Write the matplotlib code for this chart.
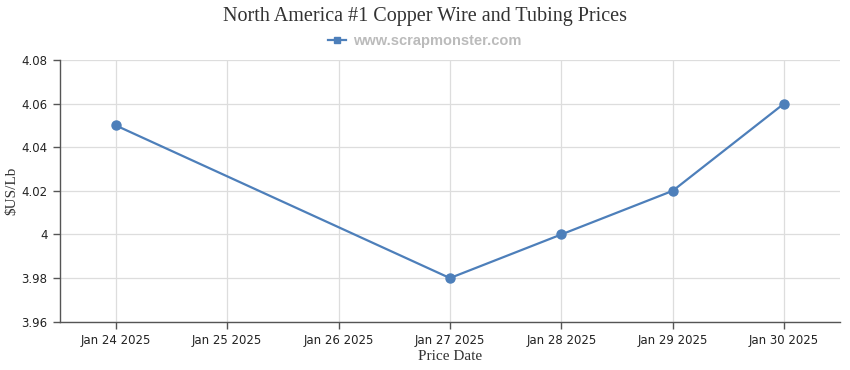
import matplotlib.pyplot as plt
import numpy as np

dates = ["Jan 24 2025", "Jan 25 2025", "Jan 26 2025", "Jan 27 2025",
         "Jan 28 2025", "Jan 29 2025", "Jan 30 2025"]
price_dates = ["Jan 24 2025", "Jan 27 2025", "Jan 28 2025", "Jan 29 2025", "Jan 30 2025"]
prices = [4.05, 3.98, 4.00, 4.02, 4.06]
yticks = [3.96, 3.98, 4.00, 4.02, 4.04, 4.06, 4.08]
ytick_labels = ["3.96", "3.98", "4", "4.02", "4.04", "4.06", "4.08"]

blue = "#4d7fba"
axis_col = "#555555"

fig = plt.figure(figsize=(8.5, 3.7), dpi=100)
ax = fig.add_axes([0.0706, 0.1305, 0.9174, 0.7075])

xpos = [dates.index(d) for d in price_dates]
ax.plot(xpos, prices, color=blue, lw=1.6, marker="o", ms=6.5, label="www.scrapmonster.com")

ax.set_xlim(-0.5, len(dates) - 0.5)
ax.set_ylim(3.96, 4.08)
ax.set_xticks(range(len(dates)))
ax.set_xticklabels(dates, fontsize=8.5, family="DejaVu Sans")
ax.set_yticks(yticks)
ax.set_yticklabels(ytick_labels, fontsize=8.5, family="DejaVu Sans")
ax.grid(True, color="#dddddd", lw=0.9)
ax.set_axisbelow(True)
for s in ["top", "right"]:
    ax.spines[s].set_visible(False)
for s in ["left", "bottom"]:
    ax.spines[s].set_color(axis_col)
    ax.spines[s].set_linewidth(1.0)
ax.tick_params(axis="both", color=axis_col, length=5, width=1, colors="#222222", pad=4)

ax.set_xlabel("Price Date", family="Liberation Serif", fontsize=11, color="#333333", labelpad=2)
ax.set_ylabel("\\$US/Lb", family="Liberation Serif", fontsize=11, color="#333333")
ax.yaxis.set_label_coords(-0.053, 0.5)

fig.text(0.5, 0.955, "North America #1 Copper Wire and Tubing Prices", ha="center", va="center",
         family="Liberation Serif", fontsize=14.5, color="#333333")
leg = fig.legend(loc="center", bbox_to_anchor=(0.5, 0.89), frameon=False, handlelength=1.2,
                 handletextpad=0.5, prop={"family": "Liberation Sans", "weight": "bold", "size": 10.5})
for t in leg.get_texts():
    t.set_color("#bbbbbb")
for h in leg.legend_handles:
    h.set_marker("s")
    h.set_markersize(5)

fig.savefig("out.png", dpi=100)
